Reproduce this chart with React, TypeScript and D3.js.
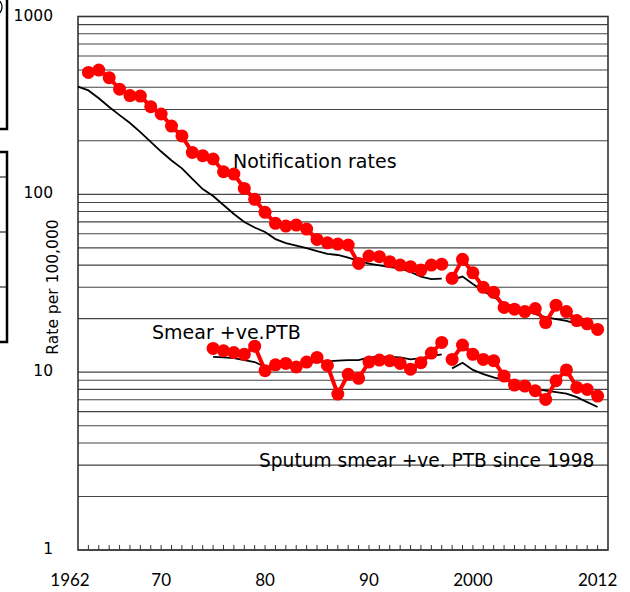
import * as d3 from "d3";

// notification rates, red = dots series, black = reference line
const notifRedStartA = 1963;
const notifRedA = [485, 500, 453, 390, 359, 357, 311, 283, 242, 213, 172, 165, 158, 134, 130, 108, 93.7, 79.2, 68.7, 66.3, 67.2, 63.8, 55.8, 53.4, 52.5, 51.9, 40.9, 45.0, 44.6, 41.8, 40.0, 39.2, 37.5, 40.0, 40.5];
const notifRedStartB = 1998;
const notifRedB = [33.7, 43.1, 36.2, 30.0, 28.1, 23.1, 22.6, 21.9, 22.8, 19.0, 23.8, 21.9, 19.5, 18.7, 17.4];
const notifBlackStartA = 1962;
const notifBlackA = [403, 384, 347, 310, 279, 252, 224, 197, 174, 155, 140, 122, 107, 97.8, 87.1, 77.5, 69.9, 65.1, 61.4, 56.0, 53.2, 51.5, 49.9, 48.0, 46.2, 45.6, 44.1, 42.2, 40.8, 39.8, 39.0, 38.3, 36.6, 34.5, 33.4, 33.6];
const notifBlackStartB = 1998;
const notifBlackB = [33.0, 34.5, 31.3, 28.6, 26.4, 24.5, 23.2, 22.4, 21.2, 20.4, 19.9, 19.4, 18.7, 17.9, 17.3];

// smear +ve PTB
const smearRedStartA = 1975;
const smearRedA = [13.6, 13.2, 12.9, 12.6, 14.0, 10.2, 11.0, 11.2, 10.7, 11.4, 12.1, 10.9, 7.53, 9.72, 9.23, 11.4, 11.7, 11.6, 11.2, 10.4, 11.3, 12.8, 14.7];
const smearRedStartB = 1998;
const smearRedB = [11.8, 14.2, 12.6, 11.8, 11.6, 9.51, 8.46, 8.35, 7.86, 7.03, 8.95, 10.3, 8.21, 8.0, 7.34];
const smearBlackStartA = 1975;
const smearBlackA = [12.2, 12.1, 12.0, 11.7, 11.4, 10.7, 10.8, 11.0, 11.1, 11.3, 11.4, 11.5, 11.6, 11.7, 11.7, 12.1, 12.2, 12.2, 12.1, 11.8, 12.0, 12.3, 12.6];
const smearBlackStartB = 1998;
const smearBlackB = [10.5, 11.3, 10.3, 9.76, 9.35, 9.03, 8.69, 8.35, 8.04, 7.88, 7.73, 7.58, 7.24, 6.79, 6.37];

const yTickLabels = [1, 10, 100, 1000];
const xLabelYears = [1962, 1970, 1980, 1990, 2000, 2012];
const xLabelTexts = ["1962", "70", "80", "90", "2000", "2012"];

const W = 630;
const H = 592;
const m = { l: 78, r: 608, t: 16.5, b: 550 };
const RED = "#ff0000";

const x = d3.scaleLinear().domain([1962, 2013]).range([m.l, m.r]);
const y = d3.scaleLog().domain([1, 1000]).range([m.b, m.t]);

const toPts = (start: number, vals: number[]) => vals.map((v, i) => [start + i, v] as [number, number]);
const line = d3.line<[number, number]>().x((d) => x(d[0])).y((d) => y(d[1]));

const Black = ({ start, vals }: { start: number; vals: number[] }) => (
  <path d={line(toPts(start, vals)) || ""} fill="none" stroke="#000" strokeWidth={1.8} />
);

const Red = ({ start, vals }: { start: number; vals: number[] }) => {
  const pts = toPts(start, vals);
  return (
    <g>
      <path d={line(pts) || ""} fill="none" stroke={RED} strokeWidth={4} />
      {pts.map((d, i) => (
        <circle key={i} cx={x(d[0])} cy={y(d[1])} r={6.5} fill={RED} />
      ))}
    </g>
  );
};

export default function App() {
  const grid = y.ticks();
  const yearTicks = d3.range(1963, 2013);
  return (
    <svg width={W} height={H} style={{ position: "absolute", left: 0, top: 0, background: "#fff" }}
      fontFamily="'DejaVu Sans', Verdana, sans-serif">
      {/* cropped neighbouring boxes at the left edge */}
      <rect x={-10} y={-10} width={17} height={139} fill="none" stroke="#000" strokeWidth={2.5} />
      <path d="M0,1 Q4,7 0,13" fill="none" stroke="#000" strokeWidth={1.3} />
      <rect x={-10} y={152} width={17} height={190} fill="none" stroke="#000" strokeWidth={2.5} />
      {[177, 232, 287].map((v) => (
        <line key={v} x1={0} x2={6} y1={v} y2={v} stroke="#000" strokeWidth={1} />
      ))}

      {grid.map((g) => (
        <line key={g} x1={m.l} x2={m.r} y1={y(g)} y2={y(g)} stroke="#444" strokeWidth={1.1} />
      ))}
      <rect x={m.l} y={m.t} width={m.r - m.l} height={m.b - m.t} fill="none" stroke="#333" strokeWidth={1.6} />
      {yearTicks.map((yr) => (
        <line key={yr} x1={x(yr)} x2={x(yr)} y1={m.b} y2={m.b - 5} stroke="#333" strokeWidth={1} />
      ))}

      {yTickLabels.map((v) => (
        <text key={v} x={53} y={y(v) - 1} fontSize={15.5} textAnchor="end" dominantBaseline="central">
          {v}
        </text>
      ))}
      {xLabelYears.map((yr, i) => (
        <text key={yr} x={x(yr) - (i === 0 ? 8 : 0)} y={579} fontSize={17} textAnchor="middle" dominantBaseline="central"
          fontFamily="Lato, 'Open Sans', sans-serif">
          {xLabelTexts[i]}
        </text>
      ))}
      <text transform="translate(53,287) rotate(-90)" fontSize={15.5} textAnchor="middle" dominantBaseline="central">
        Rate per 100,000
      </text>

      <Black start={notifBlackStartA} vals={notifBlackA} />
      <Black start={notifBlackStartB} vals={notifBlackB} />
      <Black start={smearBlackStartA} vals={smearBlackA} />
      <Black start={smearBlackStartB} vals={smearBlackB} />
      <Red start={notifRedStartA} vals={notifRedA} />
      <Red start={notifRedStartB} vals={notifRedB} />
      <Red start={smearRedStartA} vals={smearRedA} />
      <Red start={smearRedStartB} vals={smearRedB} />

      <text x={233} y={168} fontSize={19}>Notification rates</text>
      <text x={152} y={339} fontSize={19}>Smear +ve.PTB</text>
      <text x={259} y={467} fontSize={18.6}>Sputum smear +ve. PTB since 1998</text>
    </svg>
  );
}
